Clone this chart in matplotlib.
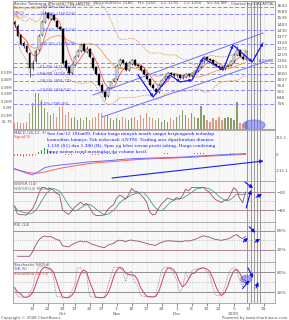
import matplotlib
matplotlib.use("Agg")
import matplotlib.pyplot as plt
from matplotlib.patches import Ellipse
import pandas as pd

W, H = 289, 320

# ---------------- data ----------------
opens = [1500, 1470, 1390, 1320, 1290, 1230, 1100, 1160, 1260, 1390,
         1500, 1580, 1530, 1560, 1510, 1460, 1440, 1160, 1110, 1060,
         1130, 1210, 1250, 1310, 1240, 1270, 1190, 1110, 1050, 960,
         900, 860, 930, 990, 1010, 1130, 1170, 1150, 1090, 1140,
         1170, 1130, 1120, 1090, 1050, 1010, 960, 920, 900, 960,
         1010, 1030, 1060, 1050, 1040, 1040, 1020, 1030, 1050, 1040,
         1060, 1080, 1110, 1160, 1200, 1180, 1170, 1140, 1120, 1110,
         1100, 1120, 1130, 1160, 1220, 1260, 1200, 1180]
highs = [1520, 1480, 1400, 1340, 1300, 1240, 1170, 1270, 1400, 1520,
         1600, 1590, 1580, 1570, 1520, 1470, 1450, 1180, 1120, 1140,
         1220, 1270, 1320, 1320, 1290, 1280, 1200, 1120, 1060, 970,
         910, 940, 990, 1020, 1140, 1190, 1180, 1160, 1160, 1180,
         1180, 1140, 1130, 1100, 1060, 1020, 970, 930, 970, 1010,
         1040, 1070, 1070, 1060, 1050, 1050, 1040, 1060, 1060, 1070,
         1090, 1120, 1170, 1210, 1210, 1190, 1180, 1150, 1130, 1120,
         1130, 1140, 1170, 1230, 1290, 1270, 1220, 1250]
lows = [1460, 1370, 1300, 1280, 1230, 1030, 1090, 1150, 1250, 1380,
        1490, 1530, 1520, 1510, 1450, 1430, 1140, 1090, 1040, 1050,
        1120, 1200, 1240, 1240, 1230, 1190, 1090, 1040, 950, 890,
        830, 850, 920, 980, 1000, 1120, 1140, 1080, 1080, 1130,
        1120, 1110, 1080, 1040, 1000, 950, 920, 880, 890, 950,
        1000, 1020, 1040, 1030, 1030, 1010, 1010, 1020, 1030, 1030,
        1050, 1070, 1100, 1150, 1170, 1160, 1130, 1110, 1100, 1090,
        1090, 1110, 1120, 1150, 1210, 1200, 1170, 1170]
closes = [1480, 1380, 1310, 1290, 1240, 1100, 1150, 1250, 1380, 1500,
          1570, 1540, 1560, 1520, 1460, 1440, 1150, 1100, 1060, 1130,
          1200, 1250, 1300, 1250, 1270, 1200, 1100, 1050, 960, 900,
          850, 930, 980, 1010, 1120, 1170, 1150, 1090, 1150, 1170,
          1130, 1120, 1090, 1050, 1010, 960, 930, 900, 960, 1000,
          1030, 1060, 1050, 1040, 1040, 1020, 1030, 1050, 1040, 1060,
          1080, 1110, 1160, 1200, 1180, 1170, 1140, 1120, 1110, 1100,
          1120, 1130, 1160, 1220, 1260, 1210, 1180, 1250]
volumes = [.053, .069, .053, .060, .069, .147, .240, .335, .335, .270,
           .194, .160, .131, .147, .116, .210, .216, .131, .160, .100,
           .116, .084, .100, .084, .116, .084, .100, .116, .147, .147,
           .116, .131, .100, .084, .100, .084, .116, .100, .084, .100,
           .116, .084, .131, .100, .147, .116, .100, .084, .100, .069,
           .084, .069, .100, .084, .116, .131, .178, .131, .100, .147,
           .116, .100, .216, .131, .084, .069, .100, .084, .116, .084,
           .100, .116, .100, .084, .256, .053, .045, .064]

macd_days = [0, 4, 6, 8, 10, 12, 16, 20, 24, 28, 32, 36, 40, 44, 48, 52, 56, 60, 64, 68, 72, 77]
macd_line = [-190, -250, -270, -230, -180, -160, -140, -125, -105, -95, -85,
             -70, -60, -55, -50, -45, -40, -30, -20, -12, -5, 5]
signal_line = [-200, -235, -248, -250, -235, -215, -180, -155, -130, -112, -100,
               -88, -75, -66, -60, -54, -48, -40, -30, -22, -14, -5]
macd_hist = [-20, -25, -30, -35, -30, -25, -20, -10,
             30, 55, 75, 65, 45,
             20, 10, 5, -5, -10, -15, -10, -5, 5, 10, 8, 5, -5, -10, -12, -8,
             -5, 5, 10, 12, 10, 6, 3, -3, -5, -4, -2,
             3, 5, 6, 4, 2, -2, -4, -3, 2, 5, 7, 8, 6, 4, 3, 2, 3, 4, 5, 6,
             8, 10, 9, 7, 5, 4, 3, 4, 5, 4, 3, 5, 7, 8, 6, 5, 6, 8]

price_ticks = [795, 848, 901, 954, 1007, 1060, 1113, 1166, 1219, 1272,
               1324, 1377, 1430, 1483, 1536, 1589, 1642]
vol_ticks = [0.0657, 0.13, 0.2, 0.26, 0.33, 0.39, 0.46, 0.53]
vol_labels = ["65.7K", "0.13M", "0.2M", "0.26M", "0.33M", "0.39M", "0.46M", "0.53M"]
tick_days = [6, 11, 16, 20, 25, 29, 34, 39, 44, 49, 54, 59, 64, 68, 73, 78, 83]
tick_labels = ["15", "22", "29\nOct", "13", "20", "27", "3\nNov", "10", "17", "24",
               "1\nDec", "8", "15", "22", "5\n2009", "12", "19"]

fib_low, fib_high = 795.0, 1310.0
fib_ratios = [0.0, 0.236, 0.382, 0.5, 0.618, 1.0, 1.236, 1.5, 1.618]
extra_level = 1150.0

# annotations drawn by the analyst (day index, value)
upper_channel = ([26.2, 82.8], [870, 1406])
lower_channel = ([29.2, 85.2], [680, 1173])
wave_days = [41.2, 46.2, 51.8, 55.2, 59.2, 62.8, 69.5, 72.8, 79.2, 82.8]
wave_price = [1043, 853, 1043, 983, 1000, 1190, 1086, 1303, 1156, 1320]
macd_arrow = ((32.5, -313), (83.0, -91))
wr_arrows = [((76.8, 13), (79.5, -7)), ((77.2, -73), (78.8, -13)), ((80.5, -37), (82.5, -27))]
rsi_arrows = [((78.2, 93), (80.2, 74)), ((76.2, 45), (77.8, 58)), ((80.2, 45), (81.8, 55))]
sto_arrows = [((77.8, 92), (79.5, 62)), ((76.0, 30), (78.2, 55)), ((80.5, 32), (81.2, 50))]
future_days = [77.6, 78.7, 79.8, 80.9, 81.8]

note_lines = [
    "Sen Jan/12 19Jan09. Faktor harga minyak masih sangat berpengaruh terhadap",
    "komoditas lainnya. Tak terkecuali ANTM. Trading area diperkirakan diantara",
    "1.130 (S1) dan 1.380 (R). Spas yg lebar rawan profit taking. Harga cenderung",
    "turun namun trend meningkat dg volume kecil.",
]

# ---------------- indicators ----------------
df = pd.DataFrame({"o": opens, "h": highs, "l": lows, "c": closes, "v": volumes})
days = df.index.values
ma5 = df.c.rolling(5, min_periods=1).mean()
ma20 = df.c.rolling(20, min_periods=1).mean()
sd20 = df.c.rolling(20, min_periods=2).std(ddof=0)
hh14 = df.h.rolling(14, min_periods=1).max()
ll14 = df.l.rolling(14, min_periods=1).min()
willr = -100 * (hh14 - df.c) / (hh14 - ll14)
willr_ma = willr.rolling(5, min_periods=1).mean()
delta = df.c.diff().fillna(0)
gain = delta.clip(lower=0).ewm(alpha=1 / 14, adjust=False).mean()
loss = (-delta.clip(upper=0)).ewm(alpha=1 / 14, adjust=False).mean()
rsi = 100 * gain / (gain + loss)
hh5 = df.h.rolling(5, min_periods=1).max()
ll5 = df.l.rolling(5, min_periods=1).min()
stoch_k = 100 * (df.c - ll5) / (hh5 - ll5)
stoch_d = stoch_k.rolling(3, min_periods=1).mean()

# ---------------- figure ----------------
fig = plt.figure(figsize=(W / 100, H / 100), dpi=100)
fig.patch.set_facecolor("white")


def panel(top, bottom):
    return fig.add_axes([13 / W, 1 - bottom / H, 262 / W, (bottom - top) / H])


def ftext(x, y, s, **kw):
    kw.setdefault("fontsize", 3.0)
    kw.setdefault("color", "#555555")
    fig.text(x / W, 1 - y / H, s, va="center", **kw)


ax_vol = panel(1, 129)
ax_price = ax_vol.twinx()
ax_macd = panel(130, 181)
ax_wr = panel(181, 222)
ax_rsi = panel(222, 262)
ax_sto = panel(262, 303)
axes = [ax_vol, ax_macd, ax_wr, ax_rsi, ax_sto]

for ax in axes + [ax_price]:
    ax.set_xlim(-0.5, 86.8)
    for s in ax.spines.values():
        s.set_color("#a0a0a0")
        s.set_linewidth(0.6)
    ax.tick_params(length=0, labelsize=3.2, labelcolor="#555555", pad=1.2)
for ax in axes:
    ax.set_facecolor("#f7f7f7")
    ax.set_xticks(tick_days)
    ax.grid(axis="x", color="#e4e4e4", lw=0.4)
    for d in future_days:
        ax.axvline(d, color="#8a8a8a", lw=0.6, zorder=1)
for ax in axes[:-1]:
    ax.set_xticklabels([])
ax_sto.set_xticklabels(tick_labels, linespacing=1.3)
ax_sto.tick_params(axis="x", length=2, color="#909090", pad=1.2)

# volume (left scale)
vol_colors = ["#8c9c6a" if c >= o else "#dc9a82" for o, c in zip(opens, closes)]
ax_vol.bar(days, df.v, width=0.62, color=vol_colors, zorder=2)
ax_vol.set_ylim(0, 1.2)
ax_vol.set_yticks(vol_ticks)
ax_vol.set_yticklabels(vol_labels)
ax_vol.yaxis.tick_left()
ax_vol.tick_params(axis="y", labelsize=2.7, pad=0.4)
ax_vol.add_patch(Ellipse((79.8, 0.037), 7.3, 0.094, color="#6a6af0", alpha=0.55, zorder=3))

# price
ax_price.set_ylim(576, 1683)
ax_price.set_yticks(price_ticks)
ax_price.yaxis.tick_right()
for r in fib_ratios:
    lvl = fib_low + r * (fib_high - fib_low)
    ax_price.axhline(lvl, color="#8888ff", lw=0.7, ls=(0, (4, 2)), zorder=1)
    ax_price.text(8.6, lvl, f"{r * 100:.1f}% ({lvl:.2f})", fontsize=2.9,
                  color="#5050ff", va="center")
ax_price.axhline(extra_level, color="#8888ff", lw=0.7, ls=(0, (4, 2)), zorder=1)
ax_price.text(86.5, extra_level + 10, f"{extra_level:.2f}", fontsize=2.9,
              color="#3030ff", ha="right", va="center")

ax_price.plot(days, ma20 + 2 * sd20, color="#d8a060", lw=0.6, ls=(0, (2, 1.2)))
ax_price.plot(days, ma20 - 2 * sd20, color="#d8a060", lw=0.6, ls=(0, (2, 1.2)))
ax_price.plot(days, ma20, color="#f0a040", lw=0.6)
ax_price.plot(days, ma5, color="#ff5a5a", lw=0.6)

body_lo = df[["o", "c"]].min(axis=1)
body_h = (df.c - df.o).abs().clip(lower=4)
cand_colors = ["white" if c >= o else "black" for o, c in zip(opens, closes)]
ax_price.vlines(days, df.l, df.h, color="black", lw=0.4, zorder=4)
ax_price.bar(days, body_h, bottom=body_lo, width=0.66, color=cand_colors,
             edgecolor="black", lw=0.3, zorder=5)

ax_price.plot(*upper_channel, color="#7070ff", lw=0.7, zorder=6)
ax_price.plot(*lower_channel, color="#7070ff", lw=0.7, zorder=6)
ax_price.plot(wave_days, wave_price, color="#2020ee", lw=0.7, zorder=7)
for i in range(1, len(wave_days)):
    ax_price.annotate("", xy=(wave_days[i], wave_price[i]),
                      xytext=(wave_days[i - 1], wave_price[i - 1]),
                      arrowprops=dict(arrowstyle="-|>", color="#2020ee", lw=0.7,
                                      mutation_scale=4, shrinkA=0, shrinkB=0), zorder=7)

# MACD
ax_macd.set_ylim(-352, 313)
ax_macd.set_yticks([215.1, 0, -215.1])
ax_macd.set_yticklabels(["215.1", "0", "-215.1"])
ax_macd.yaxis.tick_right()
ax_macd.tick_params(axis="y", labelsize=2.8, pad=0.8)
hist_colors = ["#3aa63a" if v >= 0 else "#e8704a" for v in macd_hist]
ax_macd.bar(days, macd_hist, width=0.6, color=hist_colors, zorder=2)
ax_macd.plot(macd_days, signal_line, color="#ff6060", lw=0.7, zorder=3)
ax_macd.plot(macd_days, macd_line, color="#6a6aff", lw=0.7, zorder=3)
ax_macd.annotate("", xy=macd_arrow[1], xytext=macd_arrow[0],
                 arrowprops=dict(arrowstyle="-|>", color="#2020ee", lw=0.8,
                                 mutation_scale=5, shrinkA=0, shrinkB=0))

# Williams %R
ax_wr.set_ylim(-120, 17)
ax_wr.set_yticks([-20, -80])
ax_wr.yaxis.tick_right()
for lv in (-20, -80):
    ax_wr.axhline(lv, color="#b08898", lw=0.7)
ax_wr.axhline(-50, color="#b0b0b0", lw=0.6, ls=":")
ax_wr.plot(days, willr_ma, color="#4aa07a", lw=0.6)
ax_wr.plot(days, willr, color="#93507a", lw=0.6)

# RSI
ax_rsi.set_ylim(-18, 108)
ax_rsi.set_yticks([80, 20])
ax_rsi.set_yticklabels(["80%", "20%"])
ax_rsi.yaxis.tick_right()
for lv in (80, 20):
    ax_rsi.axhline(lv, color="#b08898", lw=0.7)
ax_rsi.axhline(50, color="#b0b0b0", lw=0.6, ls=":")
ax_rsi.plot(days[1:], rsi[1:], color="#93507a", lw=0.6)

# Stochastic
ax_sto.set_ylim(-13, 110)
ax_sto.set_yticks([80, 20])
ax_sto.set_yticklabels(["80%", "20%"])
ax_sto.yaxis.tick_right()
for lv in (80, 20):
    ax_sto.axhline(lv, color="#909090", lw=0.7)
ax_sto.axhline(50, color="#b0b0b0", lw=0.6, ls=":")
ax_sto.plot(days, stoch_k, color="#909090", lw=0.6, ls=(0, (1, 1)))
ax_sto.plot(days, stoch_d, color="#d04070", lw=0.7)
ax_sto.add_patch(Ellipse((77.2, 58), 3.6, 22, color="#5050ee", alpha=0.45, zorder=3))

for ax, arrows in ((ax_wr, wr_arrows), (ax_rsi, rsi_arrows), (ax_sto, sto_arrows)):
    for start, end in arrows:
        ax.annotate("", xy=end, xytext=start,
                    arrowprops=dict(arrowstyle="-|>", color="#1010ee", lw=0.8,
                                    mutation_scale=5, shrinkA=0, shrinkB=0))

# ---------------- texts ----------------
ftext(14, 3.5, "Aneka Tambang (Persero) Tbk (ANTM)", fontsize=2.9)
for x, s in ((93, "09/01/2009"), (115, "O= 1180"), (138, "H= 1250"),
             (161, "L= 1170"), (184, "C= 1250"), (207, "V= 63.9M")):
    ftext(x, 3.5, s, fontsize=2.9)
ftext(274, 3.5, "Charted by OSKCAPITAL", ha="right", fontsize=2.6)
ftext(14, 8, "Bollinger(20,2)", color="#c07838", fontsize=2.8)
ftext(14, 12.7, "MA(5)", color="#ff4040", fontsize=2.8)
ftext(14, 17.3, "MA(20)", color="#e89030", fontsize=2.8)

ftext(14, 132.5, "MACD (26,12, 9)", color="#5050c0", fontsize=2.8)
ftext(14, 137, "Signal(9)", color="#ff4040", fontsize=2.8)
for k, line in enumerate(note_lines):
    ftext(47, 133.5 + 6 * k, line, fontsize=3.9, color="#1a1aff",
          family="Liberation Serif")

ftext(14, 184, "Will%R (14)", color="#8a4070", fontsize=2.8)
ftext(14, 188.5, "Will%R(14) MA(5d)", color="#3a9a6a", fontsize=2.8)
ftext(14, 225, "RSI (14)", fontsize=2.8)
ftext(14, 265, "Stochastic %K(5d)", fontsize=2.8)
ftext(14, 269.5, "%K (5)", color="#4040ff", fontsize=2.8)
ftext(14, 274, "Smoothed %K (3)", color="#ff3030", fontsize=2.8)

ftext(1, 318.3, "Copyright \u00a9 2008 ChartNexus", fontsize=2.8)
ftext(288, 318.3, "Powered by www.chartnexus.com", ha="right", fontsize=2.8)

fig.savefig("out.png", dpi=100, facecolor="white")
plt.close(fig)
